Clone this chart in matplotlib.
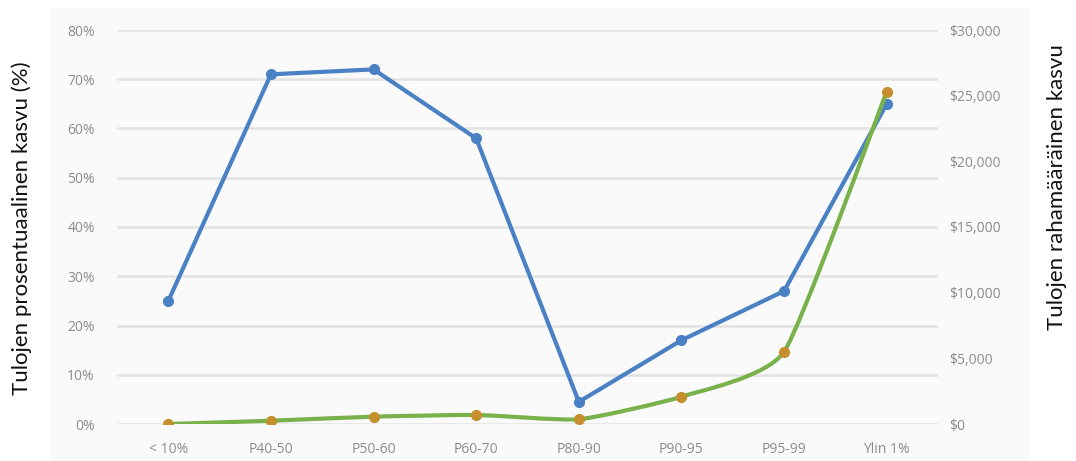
import matplotlib
matplotlib.use("Agg")
import matplotlib.pyplot as plt
from matplotlib.path import Path
from matplotlib.patches import PathPatch, Rectangle
from matplotlib.ticker import FuncFormatter
import numpy as np

categories = ["< 10%", "P40-50", "P50-60", "P60-70", "P80-90", "P90-95", "P95-99", "Ylin 1%"]
pct_growth = [25, 71, 72, 58, 4.5, 17, 27, 65]          # %
abs_growth = [0, 250, 560, 690, 360, 2080, 5500, 25300]  # dollars

BLUE = "#4a80c4"
GREEN = "#79b24a"
MARKER = "#c48f2c"
TICK = "#8c8c8c"

plt.rcParams["font.family"] = ["Open Sans", "DejaVu Sans"]

fig = plt.figure(figsize=(10.76, 4.61), dpi=100)
W, H = 1076, 461
fig.patches.append(Rectangle((50 / W, 0), 980 / W, 1 - 8 / H, transform=fig.transFigure,
                             facecolor="#fafafa", edgecolor="none", zorder=-10))

ax = fig.add_axes([117 / W, 1 - 424 / H, (938 - 117) / W, (424 - 30) / H])
ax.set_facecolor("none")
ax2 = ax.twinx()

x = np.arange(len(categories))
ax.set_xlim(-0.5, len(categories) - 0.5)
ax.set_ylim(0, 0.8)
ax2.set_ylim(0, 30000)

ax.set_yticks(np.arange(0, 0.81, 0.1))
ax.yaxis.set_major_formatter(FuncFormatter(lambda v, p: f"{v*100:.0f}%"))
ax2.set_yticks(np.arange(0, 30001, 5000))
ax2.yaxis.set_major_formatter(FuncFormatter(lambda v, p: f"${v:,.0f}"))
ax.set_xticks(x)
ax.set_xticklabels(categories)

ax.grid(axis="y", color="#e3e3e3", linewidth=1.8)
ax.set_axisbelow(True)
for a in (ax, ax2):
    for s in a.spines.values():
        s.set_visible(False)
    a.tick_params(length=0, labelsize=10, labelcolor=TICK)
ax.tick_params(axis="y", pad=16)
ax.tick_params(axis="x", pad=13)
ax2.tick_params(axis="y", pad=8)

# percentage growth series (straight segments)
ax.plot(x, np.array(pct_growth) / 100, color=BLUE, linewidth=3, marker="o",
        markersize=7, markerfacecolor=BLUE, markeredgecolor=BLUE, zorder=3,
        solid_joinstyle="round")

# dollar growth series drawn as a gently smoothed curve through the points
pts = np.column_stack([x, abs_growth]).astype(float)
verts = [tuple(pts[0])]
codes = [Path.MOVETO]
n = len(pts)
tension = 1.0 / 12.0
for i in range(n - 1):
    p0 = pts[max(i - 1, 0)]
    p1 = pts[i]
    p2 = pts[i + 1]
    p3 = pts[min(i + 2, n - 1)]
    c1 = p1 + (p2 - p0) * tension
    c2 = p2 - (p3 - p1) * tension
    verts += [tuple(c1), tuple(c2), tuple(p2)]
    codes += [Path.CURVE4] * 3
ax2.add_patch(PathPatch(Path(verts, codes), facecolor="none", edgecolor=GREEN,
                        linewidth=3, zorder=2, capstyle="round"))
ax2.plot(x, abs_growth, linestyle="none", marker="o", markersize=7,
         markerfacecolor=MARKER, markeredgecolor=MARKER, zorder=4)

fig.text(22 / W, 1 - 228 / H, "Tulojen prosentuaalinen kasvu (%)", rotation=90,
         ha="center", va="center", fontsize=16, color="#111111",
         family=["Lato", "DejaVu Sans"])
fig.text(1057 / W, 1 - 187 / H, "Tulojen rahamääräinen kasvu", rotation=90,
         ha="center", va="center", fontsize=16, color="#111111",
         family=["Lato", "DejaVu Sans"])

fig.savefig("out.png", dpi=100)
